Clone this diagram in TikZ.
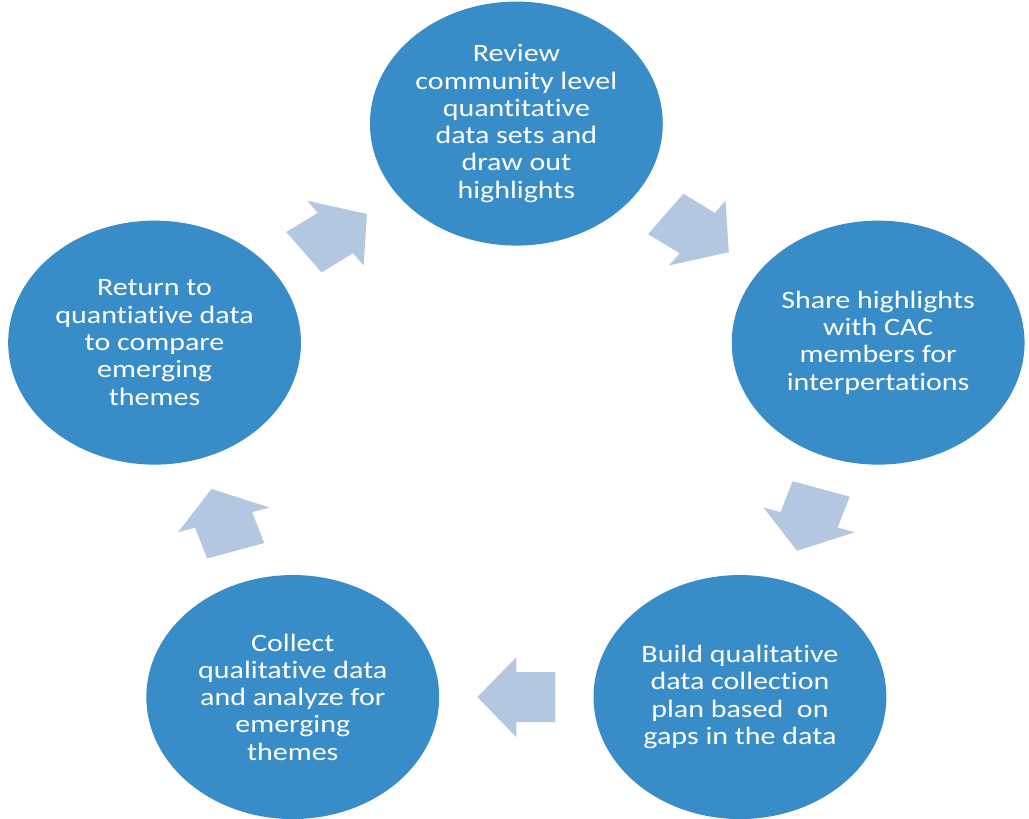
\documentclass[tikz,border=0pt]{standalone}
\usepackage{fontspec}
\setmainfont{Carlito}[Ligatures={NoCommon}]
\definecolor{bubc}{RGB}{56,140,200}
\definecolor{arrc}{RGB}{180,199,225}
\tikzset{
  bub/.style={circle, fill=bubc, minimum size=244pt, inner sep=0pt, align=center,
    text=white, font=\fontsize{25}{27.3}\selectfont, transform shape},
  blockarrow/.style={fill=arrc}
}
\begin{document}
\begin{tikzpicture}[x=1pt,y=1pt]
\useasboundingbox (0,0) rectangle (1029,819);
\begin{scope}[xscale=1.2, shift={(430.3,378.4)}]
  \node[bub] (n1) at (90:317) {Review\\community level\\quantitative\\data sets and\\draw out\\highlights};
  \node[bub] (n2) at (18:317) {Share highlights\\with CAC\\members for\\interpertations};
  \node[bub] (n3) at (-54:317) {Build qualitative\\data collection\\plan based~ on\\gaps in the data};
  \node[bub] (n4) at (-126:317) {Collect\\qualitative data\\and analyze for\\emerging\\themes};
  \node[bub] (n5) at (162:317) {Return to\\quantiative data\\to compare\\emerging\\themes};
  \foreach \a in {54,-18,-90,-162,126} {
    \begin{scope}[shift={(\a:256.5)}, rotate=\a-90]
      \fill[blockarrow] (-32.5,-25) -- (0,-25) -- (0,-40) -- (32.5,0) -- (0,40) -- (0,25) -- (-32.5,25) -- cycle;
    \end{scope}
  }
\end{scope}
\end{tikzpicture}
\end{document}
